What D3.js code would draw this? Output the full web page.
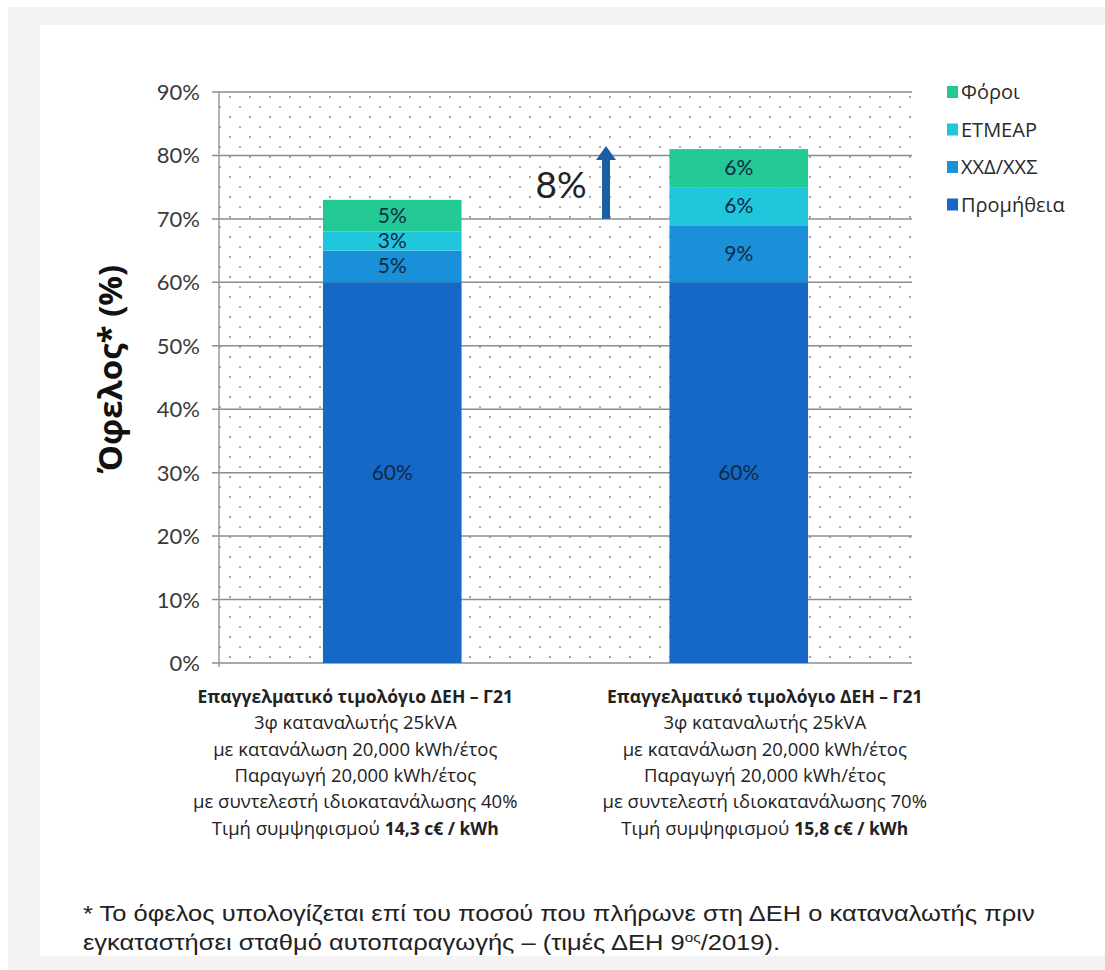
<!DOCTYPE html>
<html>
<head>
<meta charset="utf-8">
<script src="https://cdn.jsdelivr.net/npm/d3@7"></script>
<style>
  body { margin: 0; background: #f3f3f3; }
  svg { display: block; }
</style>
</head>
<body>
<svg id="chart" width="1105" height="970"></svg>
<script>
// ---- data ----
var categories = ["case40", "case70"];
var seriesNames = ["Προμήθεια", "ΧΧΔ/ΧΧΣ", "ETMEAP", "Φόροι"];
var seriesColors = ["#1668c6", "#1a90d8", "#1fc6dc", "#22c994"];
var promitheia = [60, 60];
var xxd = [5, 9];
var etmear = [3, 6];
var foroi = [5, 6];
var yTicks = [0, 10, 20, 30, 40, 50, 60, 70, 80, 90];
var arrowFrom = 70, arrowTo = 81.5, arrowLabel = "8%";

var catLines = [
  ["Επαγγελματικό τιμολόγιο ΔΕΗ – Γ21", "3φ καταναλωτής 25kVA", "με κατανάλωση 20,000 kWh/έτος",
   "Παραγωγή 20,000 kWh/έτος", "με συντελεστή ιδιοκατανάλωσης 40%", ["Τιμή συμψηφισμού ", "14,3 c€ / kWh"]],
  ["Επαγγελματικό τιμολόγιο ΔΕΗ – Γ21", "3φ καταναλωτής 25kVA", "με κατανάλωση 20,000 kWh/έτος",
   "Παραγωγή 20,000 kWh/έτος", "με συντελεστή ιδιοκατανάλωσης 70%", ["Τιμή συμψηφισμού ", "15,8 c€ / kWh"]]
];

var svg = d3.select("#chart");
var W = 1105, H = 970;

// panel backgrounds
svg.append("rect").attr("x", 0).attr("y", 0).attr("width", W).attr("height", H).attr("fill", "#f3f3f3");
svg.append("rect").attr("x", 0).attr("y", 0).attr("width", W).attr("height", 7).attr("fill", "#fff");
svg.append("rect").attr("x", 0).attr("y", 0).attr("width", 8).attr("height", H).attr("fill", "#fff");
svg.append("rect").attr("x", 40).attr("y", 25).attr("width", W - 40).attr("height", 931).attr("fill", "#fff");

var plotLeft = 219, plotRight = 912, plotTop = 92, plotBottom = 663;

var y = d3.scaleLinear().domain([0, 90]).range([plotBottom, plotTop]);
var x = d3.scaleBand().domain(categories).range([plotLeft, plotRight]).paddingInner(0.6).paddingOuter(0.3);

// dotted background pattern
var defs = svg.append("defs");
var pat = defs.append("pattern").attr("id", "dots").attr("patternUnits", "userSpaceOnUse")
  .attr("width", 20).attr("height", 20).attr("x", plotLeft + 10).attr("y", plotTop + 4);
pat.append("circle").attr("cx", 1).attr("cy", 1).attr("r", 1.1).attr("fill", "#9a9a9a");
pat.append("circle").attr("cx", 11).attr("cy", 11).attr("r", 1.1).attr("fill", "#9a9a9a");
svg.append("rect").attr("x", plotLeft).attr("y", plotTop).attr("width", plotRight - plotLeft).attr("height", plotBottom - plotTop)
  .attr("fill", "url(#dots)");

// gridlines
svg.append("g").selectAll("line").data(yTicks).join("line")
  .attr("x1", plotLeft - 7).attr("x2", plotRight)
  .attr("y1", function(d){ return y(d); }).attr("y2", function(d){ return y(d); })
  .attr("stroke", "#8c8c8c").attr("stroke-width", 1.5);

// y axis line
svg.append("line").attr("x1", plotLeft).attr("x2", plotLeft).attr("y1", plotTop).attr("y2", plotBottom + 4)
  .attr("stroke", "#9a9a9a").attr("stroke-width", 1.5);

// y tick labels
svg.append("g").selectAll("text").data(yTicks).join("text")
  .attr("x", 200).attr("y", function(d){ return y(d) + 8; })
  .attr("text-anchor", "end")
  .attr("font-family", "Lato, 'Open Sans', sans-serif").attr("font-size", 22)
  .attr("fill", "#3a3a3a")
  .text(function(d){ return d + "%"; });

// y title
svg.append("text")
  .attr("transform", "translate(122,369) rotate(-90)")
  .attr("text-anchor", "middle")
  .attr("font-family", "'Open Sans', 'Noto Sans', sans-serif").attr("font-size", 33).attr("font-weight", "bold")
  .attr("fill", "#111")
  .text("Όφελος* (%)");

// stacked bars
var table = categories.map(function(c, i){
  return { cat: c, "Προμήθεια": promitheia[i], "ΧΧΔ/ΧΧΣ": xxd[i], "ETMEAP": etmear[i], "Φόροι": foroi[i] };
});
var stacked = d3.stack().keys(seriesNames)(table);
var color = d3.scaleOrdinal().domain(seriesNames).range(seriesColors);

var layers = svg.append("g").selectAll("g").data(stacked).join("g")
  .attr("fill", function(d){ return color(d.key); });
layers.selectAll("rect").data(function(d){ return d; }).join("rect")
  .attr("x", function(d){ return x(d.data.cat); })
  .attr("width", x.bandwidth())
  .attr("y", function(d){ return y(d[1]); })
  .attr("height", function(d){ return y(d[0]) - y(d[1]); });

layers.selectAll("text").data(function(d){ return d; }).join("text")
  .attr("x", function(d){ return x(d.data.cat) + x.bandwidth() / 2; })
  .attr("y", function(d){ return y((d[0] + d[1]) / 2) + 7; })
  .attr("text-anchor", "middle")
  .attr("font-family", "Lato, 'Open Sans', sans-serif").attr("font-size", 21)
  .attr("fill", "#0f2a48")
  .text(function(d){ return (d[1] - d[0]) + "%"; });

// arrow for difference
var ax = 606;
svg.append("line").attr("x1", ax).attr("x2", ax).attr("y1", y(arrowFrom)).attr("y2", y(arrowTo) + 12)
  .attr("stroke", "#1a5ea6").attr("stroke-width", 8);
svg.append("path")
  .attr("d", "M" + (ax - 10) + "," + (y(arrowTo) + 14) + " L" + ax + "," + y(arrowTo) + " L" + (ax + 10) + "," + (y(arrowTo) + 14) + " Z")
  .attr("fill", "#1a5ea6");
svg.append("text").attr("x", 561).attr("y", 198).attr("text-anchor", "middle")
  .attr("font-family", "Lato, 'Open Sans', sans-serif").attr("font-size", 37).attr("fill", "#222")
  .text(arrowLabel);

// legend
var legend = svg.append("g").selectAll("g").data(seriesNames.slice().reverse()).join("g")
  .attr("transform", function(d, i){ return "translate(947," + (92 + i * 37.5) + ")"; });
legend.append("rect").attr("x", 0).attr("y", -6).attr("width", 11).attr("height", 12)
  .attr("fill", function(d){ return color(d); });
legend.append("text").attr("x", 14).attr("y", 7)
  .attr("font-family", "'Open Sans', 'Noto Sans', sans-serif").attr("font-size", 20).attr("fill", "#2a2a2a")
  .text(function(d){ return d; });

// category labels
catLines.forEach(function(lines, ci){
  var cx = x(categories[ci]) + x.bandwidth() / 2 + (ci == 0 ? -37 : 26);
  var g = svg.append("g");
  lines.forEach(function(line, li){
    var t = g.append("text").attr("x", cx).attr("y", 703 + li * 26.3)
      .attr("text-anchor", "middle")
      .attr("font-family", "'Open Sans', 'Noto Sans', sans-serif").attr("font-size", 18.5)
      .attr("fill", "#222");
    if (li == 0) t.attr("font-weight", "bold").attr("font-size", 17.5).text(line);
    else if (Array.isArray(line)) {
      t.append("tspan").text(line[0]);
      t.append("tspan").attr("font-weight", "bold").attr("font-size", 17.5).text(line[1]);
    } else t.text(line);
  });
});

// footnote - set at a smaller size, then stretched sideways to the reference width
var fs = 22.5;
var fn = svg.append("g").attr("font-family", "'Liberation Sans', Arial, sans-serif")
  .attr("font-size", fs).attr("fill", "#222");
var l1 = fn.append("text").attr("x", 0).attr("y", 921)
  .text("* Το όφελος υπολογίζεται επί του ποσού που πλήρωνε στη ΔΕΗ ο καταναλωτής πριν");
var l2 = fn.append("text").attr("x", 0).attr("y", 950);
l2.append("tspan").text("εγκαταστήσει σταθμό αυτοπαραγωγής – (τιμές ΔΕΗ 9");
l2.append("tspan").attr("font-size", fs * 0.6).attr("dy", -8).text("ος");
l2.append("tspan").attr("dy", 8).text("/2019).");
var k = 952 / l1.node().getComputedTextLength();
fn.attr("transform", "translate(83,0) scale(" + k + ",1)");
</script>
</body>
</html>
